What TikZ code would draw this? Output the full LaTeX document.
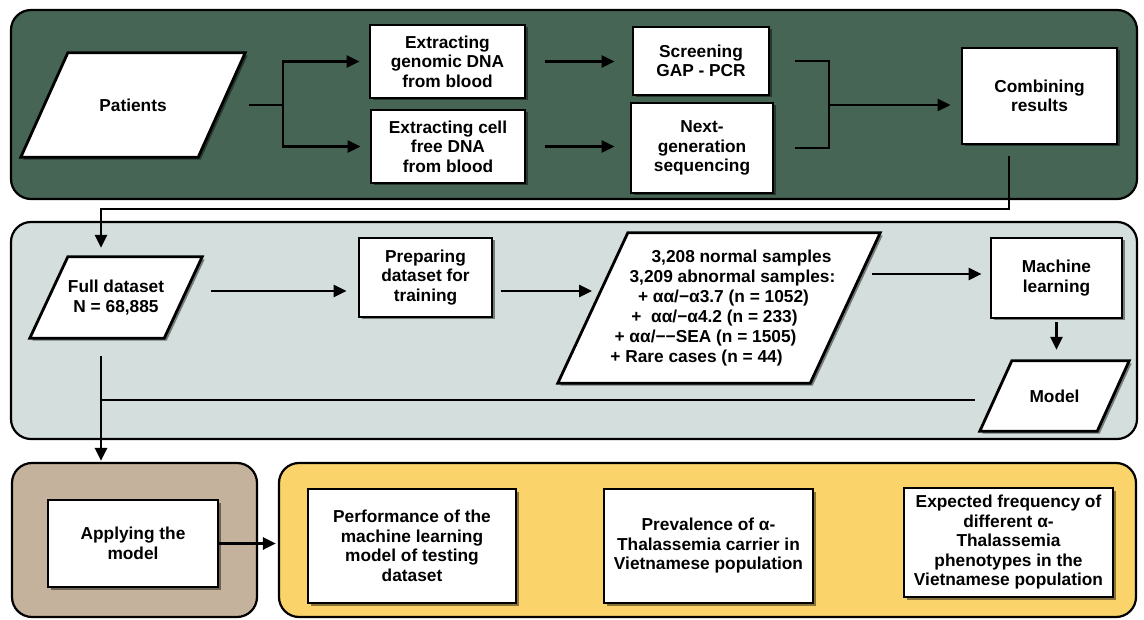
\documentclass[tikz,border=0pt]{standalone}
\usepackage{fontspec}
\setmainfont{Liberation Sans}
\usetikzlibrary{arrows.meta,shadows}
\definecolor{pgreen}{RGB}{71,101,84}
\definecolor{pgray}{RGB}{212,222,221}
\definecolor{ptan}{RGB}{196,178,156}
\definecolor{pyellow}{RGB}{250,211,106}
\pgfdeclarelayer{panels}
\pgfdeclarelayer{shapes}
\pgfsetlayers{panels,shapes,main}
\newcommand\boxfont{\bfseries\fontsize{17.3}{19.5}\selectfont}
\newcommand\parashape[2]{%
  \path[para] ([xshift=#2pt]#1.north west) -- (#1.north east) -- ([xshift=-#2pt]#1.south east) -- (#1.south west) -- cycle;}
\tikzset{
  panel/.style={draw=black, line width=2.2pt, rounded corners=20pt, inner sep=0pt},
  shade/.style={drop shadow={shadow xshift=2.5pt, shadow yshift=-2.5pt, opacity=0.45, fill=black}},
  box/.style={draw=black, fill=white, line width=2.8pt, inner sep=0pt, align=center, font=\boxfont, shade},
  plabel/.style={inner sep=0pt, align=center, font=\boxfont},
  para/.style={draw=black, fill=white, line width=2.8pt, line join=miter, shade},
  conn/.style={line width=2.8pt},
  arr/.style={conn, -{Triangle[length=13pt,width=12pt]}},
}
\begin{document}
\begin{tikzpicture}[x=1pt,y=-1pt]
\useasboundingbox (0,0) rectangle (1144,620);
% panels
\begin{pgfonlayer}{panels}
\node[panel, fill=pgreen, minimum width=1126pt, minimum height=189pt] (pA) at (574,104.5) {};
\node[panel, fill=pgray, minimum width=1126pt, minimum height=217pt] (pB) at (574,330.5) {};
\node[panel, fill=ptan, minimum width=245pt, minimum height=154pt] (pC) at (134.5,540) {};
\node[panel, fill=pyellow, minimum width=857pt, minimum height=154pt] (pD) at (707.5,540) {};
\end{pgfonlayer}
% row 1
\node[plabel, minimum width=224pt, minimum height=104pt] (pat) at (133,105) {Patients};
\node[box, minimum width=155pt, minimum height=73pt] (gen) at (447.5,61.5) {Extracting\\genomic DNA\\from blood};
\node[box, minimum width=154pt, minimum height=73pt] (cfd) at (448,146.5) {Extracting cell\\free DNA\\from blood};
\node[box, minimum width=136pt, minimum height=68pt] (scr) at (701,61) {Screening\\GAP - PCR};
\node[box, minimum width=142pt, minimum height=90pt] (ngs) at (702,148) {Next-\\generation\\sequencing};
\node[box, minimum width=155pt, minimum height=96pt] (comb) at (1039.5,96) {Combining\\results};
% row 2
\node[plabel, minimum width=172pt, minimum height=81pt] (full) at (116,297.5) {Full dataset\\N = 68,885};
\node[box, minimum width=133pt, minimum height=79pt] (prep) at (425.5,277.5) {Preparing\\dataset for\\training};
\node[plabel, align=left, font=\bfseries\fontsize{17.3}{20}\selectfont, minimum width=322pt, minimum height=150pt] (samp) at (719,308) {%
\hspace*{45pt}\makebox[0pt]{3,208 normal samples}\\
\hspace*{36pt}\makebox[0pt]{3,209 abnormal samples:}\\
\hspace*{27pt}\makebox[0pt]{+ αα/−α3.7 (n = 1052)}\\
\hspace*{18pt}\makebox[0pt]{+~ αα/−α4.2 (n = 233)}\\
\hspace*{9pt}\makebox[0pt]{+ αα/−−SEA (n = 1505)}\\
\hspace*{0pt}\makebox[0pt]{+ Rare cases (n = 44)}};
\node[box, minimum width=131pt, minimum height=80pt] (ml) at (1056.5,278) {Machine\\learning};
\node[plabel, minimum width=149pt, minimum height=70pt] (model) at (1054.5,396) {Model};
% row 3
\node[box, minimum width=170pt, minimum height=87pt] (apply) at (133,543.5) {Applying the\\model};
\node[box, minimum width=208pt, minimum height=114pt] (perf) at (412,546) {Performance of the\\machine learning\\model of testing\\dataset};
\node[box, minimum width=209pt, minimum height=114pt] (prev) at (708.5,546) {Prevalence of α-\\Thalassemia carrier in\\Vietnamese population};
\node[box, minimum width=209pt, minimum height=109pt] (exp) at (1008.5,542.5) {Expected frequency of\\different α-\\Thalassemia\\phenotypes in the\\Vietnamese population};
% parallelogram outlines
\begin{pgfonlayer}{shapes}
\parashape{pat}{47}
\parashape{full}{38}
\parashape{samp}{70}
\parashape{model}{32}
\end{pgfonlayer}
% helper coordinates
\coordinate (j1) at (283,105);
\coordinate (bm) at (829,105);
\coordinate (c1) at (1009,209);
\coordinate (c2) at (101,209);
\coordinate (r) at (0,291);
\coordinate (sin) at (592,291);
\coordinate (sout) at (872,274);
\coordinate (m1) at (101,400);
% connectors
\draw[conn] ([xshift=4pt]pat.east) -- (j1);
\draw[arr, shorten >=9pt] (j1) |- (gen);
\draw[arr, shorten >=9pt] (j1) |- (cfd);
\draw[arr, shorten <=19pt, shorten >=17pt] (gen.east) -- (gen.east -| scr.west);
\draw[arr, shorten <=19pt, shorten >=15pt] (cfd.east) -- (cfd.east -| ngs.west);
\draw[conn] ([xshift=25pt]scr.east) -- (scr.east -| bm) -- (ngs.east -| bm) -- ([xshift=21pt]ngs.east);
\draw[arr, shorten >=10pt] (bm) -- (bm -| comb.west);
\draw[arr, shorten <=11pt, shorten >=9pt] (comb.south -| c1) -- (c1) -- (c2) -- (c2 |- full.north);
\draw[arr, shorten <=9pt, shorten >=11pt] (full.east |- r) -- (prep.west |- r);
\draw[arr, shorten <=8pt] (prep.east |- r) -- (sin);
\draw[arr, shorten >=8pt] (sout) -- (sout -| ml.west);
\draw[arr, shorten <=3pt, shorten >=11pt] (ml.south) -- (ml.south |- model.north);
\draw[conn, shorten >=5pt] (m1) -- (m1 -| model.west);
\draw[arr, shorten <=18pt, shorten >=1pt] (m1 |- full.south) -- (m1 |- pC.north);
\draw[arr, shorten >=2pt] (apply) -- (apply -| pD.west);
\end{tikzpicture}
\end{document}
